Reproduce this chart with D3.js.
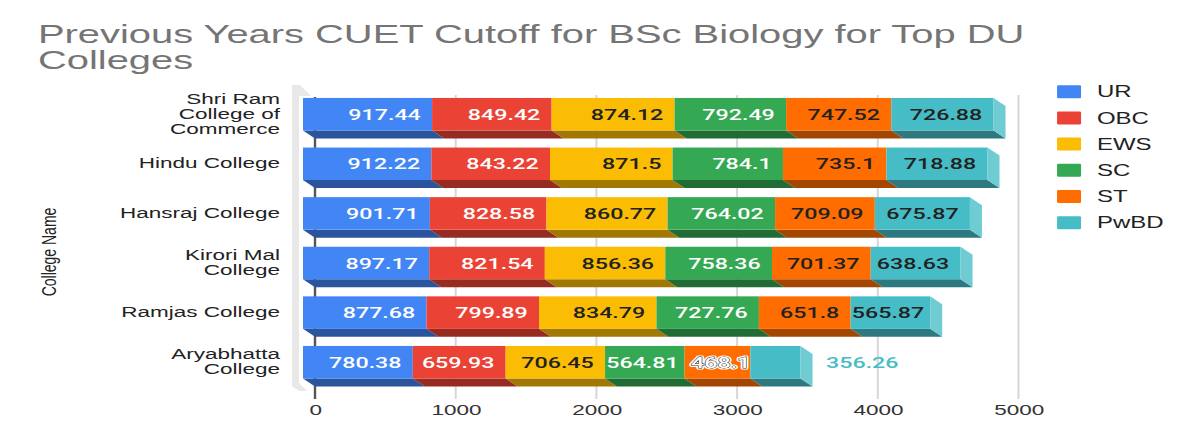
<!DOCTYPE html>
<html><head><meta charset="utf-8">
<script src="https://cdn.jsdelivr.net/npm/d3@7/dist/d3.min.js"></script>
<style>html,body{margin:0;padding:0;background:#fff;overflow:hidden}</style>
</head><body><svg id="chart" width="1200" height="442"></svg>
<script>
// ---------------- data ----------------
const titleLines = ["Previous Years CUET Cutoff for BSc Biology for Top DU", "Colleges"];
const yAxisTitle = "College Name";
const categories = ["Shri Ram College of Commerce", "Hindu College", "Hansraj College", "Kirori Mal College", "Ramjas College", "Aryabhatta College"];
const seriesNames = ["UR", "OBC", "EWS", "SC", "ST", "PwBD"];
const UR   = [917.44, 912.22, 901.71, 897.17, 877.68, 780.38];
const OBC  = [849.42, 843.22, 828.58, 821.54, 799.89, 659.93];
const EWS  = [874.12, 871.5, 860.77, 856.36, 834.79, 706.45];
const SC   = [792.49, 784.1, 764.02, 758.36, 727.76, 564.81];
const ST   = [747.52, 735.1, 709.09, 701.37, 651.8, 468.1];
const PwBD = [726.88, 718.88, 675.87, 638.63, 565.87, 356.26];
const xTicks = [0, 1000, 2000, 3000, 4000, 5000];

// ---------------- styles ----------------
const seriesValues = [UR, OBC, EWS, SC, ST, PwBD];
const frontColors = ["#4285F4", "#EA4335", "#FBBC04", "#34A853", "#FF6D01", "#46BDC6"];
const labelColors = ["#ffffff", "#ffffff", "#222222", "#ffffff", "#222222", "#222222"];
const darker = c => { const k = d3.rgb(c); return d3.rgb(k.r * 0.64, k.g * 0.64, k.b * 0.64).formatHex(); };
const lighter = c => d3.interpolateRgb(c, "#ffffff")(0.22);

const FONT = "'Liberation Sans', Arial, sans-serif";
const LFONT = "Roboto, 'Liberation Sans', sans-serif";
const SX = 1.5;           // horizontal stretch of the picture
const DX = 8, DY = 8;     // 3D depth offset (virtual units)

const svg = d3.select("#chart");
const root = svg.append("g").attr("transform", `scale(${SX},1)`);

// scales (front plane)
const x = d3.scaleLinear().domain([0, 5000]).range([202, 671]);
const y = d3.scaleBand().domain(categories).range([89.4, 387]).paddingInner(0.345).paddingOuter(0.1725);
const color = d3.scaleOrdinal().domain(seriesNames).range(frontColors);

// stacked data
const table = categories.map((c, i) => {
  const o = { college: c };
  seriesNames.forEach((s, j) => o[s] = seriesValues[j][i]);
  return o;
});
const stacked = d3.stack().keys(seriesNames)(table);

// ---------------- title ----------------
root.append("g").selectAll("text").data(titleLines).join("text")
  .attr("x", 25.3).attr("y", (d, i) => 43.5 + i * 25.5)
  .attr("font-family", FONT).attr("font-size", 26.6).attr("fill", "#757575")
  .text(d => d);

// ---------------- left wall ----------------
const wallPts = [[292,85],[300,85],[311,96],[299,96],[299,383],[307,391],[299,391],[292,386]];
root.append("polygon")
  .attr("points", wallPts.map(p => [p[0] / SX, p[1]].join(",")).join(" "))
  .attr("fill", "#e8e8e8");

// ---------------- grid (back plane) ----------------
const grid = root.append("g");
grid.selectAll("line").data(xTicks.filter(t => t !== 0)).join("line")
  .attr("x1", d => x(d) + DX).attr("x2", d => x(d) + DX)
  .attr("y1", 95).attr("y2", 399)
  .attr("stroke", "#d6d6d6").attr("stroke-width", 1.3);
grid.append("line")
  .attr("x1", x(0) + DX).attr("x2", x(0) + DX).attr("y1", 97).attr("y2", 399)
  .attr("stroke", "#555").attr("stroke-width", 1.6);

// x axis tick labels via d3 axis
const xBack = x.copy().range([x.range()[0] + DX, x.range()[1] + DX]);
const xAxis = root.append("g").attr("transform", "translate(0,404)")
  .call(d3.axisBottom(xBack).tickValues(xTicks).tickSize(0).tickPadding(0).tickFormat(d3.format("d")));
xAxis.select(".domain").remove();
xAxis.selectAll("text").attr("font-family", FONT).attr("font-size", 15).attr("fill", "#333")
  .attr("dy", "0.71em");

// ---------------- bars ----------------
const bw = y.bandwidth();
const rowsG = root.append("g");
categories.forEach((cat, ci) => {
  const yt = y(cat), yb = yt + bw;
  const g = rowsG.append("g");
  stacked.forEach((layer, si) => {
    const d = layer[ci];
    const x0 = x(d[0]), x1 = x(d[1]);
    const c = frontColors[si];
    g.append("polygon")
      .attr("points", [[x0, yb], [x1, yb], [x1 + DX, yb + DY], [x0 + DX, yb + DY]].map(p => p.join(",")).join(" "))
      .attr("fill", darker(c));
    g.append("rect").attr("x", x0).attr("y", yt).attr("width", x1 - x0).attr("height", bw).attr("fill", c);
    if (si === stacked.length - 1) {
      g.append("polygon")
        .attr("points", [[x1, yt], [x1 + DX, yt + DY], [x1 + DX, yb + DY], [x1, yb]].map(p => p.join(",")).join(" "))
        .attr("fill", lighter(c));
    }
  });
  stacked.forEach((layer, si) => {
    const d = layer[ci];
    const x0 = x(d[0]), x1 = x(d[1]);
    const segW = x1 - x0;
    const val = seriesValues[si][ci];
    const cy = yt + bw / 2;
    const t = g.append("text").attr("y", cy).attr("dy", "0.36em")
      .attr("font-family", LFONT).attr("font-weight", 500)
      .attr("font-size", 15.5).text(val);
    const tw = t.node().getComputedTextLength();
    const slack = segW - tw;
    if (segW >= 48 && slack >= 0) {
      const pad = Math.min(7.5, Math.max(0, slack - 0.8));
      t.attr("x", x1 - pad).attr("text-anchor", "end").attr("fill", labelColors[si]);
    } else if (slack >= 0) {
      t.attr("x", x1).attr("text-anchor", "end").attr("fill", "#fff")
        .attr("stroke", "#333").attr("stroke-width", 0.9).attr("paint-order", "stroke");
      g.insert("text", () => t.node()).attr("x", x1).attr("y", cy).attr("dy", "0.36em")
        .attr("text-anchor", "end")
        .attr("font-family", LFONT).attr("font-weight", 500)
        .attr("font-size", 15.5).attr("fill", "#fff").attr("stroke", "#fff").attr("stroke-width", 3.2)
        .attr("stroke-linejoin", "round").text(val);
    } else {
      t.attr("x", x1 + DX + 9).attr("text-anchor", "start").attr("fill", frontColors[si]);
    }
  });
});

// ---------------- category labels ----------------
const catG = root.append("g");
const CAT_FS = 15, CAT_LH = 15;
categories.forEach(cat => {
  const words = cat.split(" ");
  const probe = catG.append("text").attr("font-family", FONT).attr("font-size", 16);
  const lines = [];
  let cur = [];
  words.forEach(w => {
    const test = cur.concat([w]).join(" ");
    probe.text(test);
    if (probe.node().getComputedTextLength() > 120 && cur.length) {
      lines.push(cur.join(" "));
      cur = [w];
    } else cur.push(w);
  });
  if (cur.length) lines.push(cur.join(" "));
  probe.remove();
  const cy = y(cat) + bw / 2 - 1;
  lines.forEach((l, i) => {
    catG.append("text").attr("font-family", FONT).attr("font-size", CAT_FS).attr("fill", "#222")
      .attr("text-anchor", "end")
      .attr("x", 186.7).attr("y", cy + (i - (lines.length - 1) / 2) * CAT_LH).attr("dy", "0.36em").text(l);
  });
});

// y axis title
root.append("text").attr("transform", "translate(32,252) rotate(-90)")
  .attr("text-anchor", "middle").attr("dy", "0.36em")
  .attr("font-family", FONT).attr("font-size", 14).attr("fill", "#222").text(yAxisTitle);

// ---------------- legend ----------------
const leg = root.append("g").selectAll("g").data(seriesNames).join("g")
  .attr("transform", (d, i) => `translate(0,${91.7 + i * 26.2})`);
leg.append("rect").attr("x", 704.7).attr("y", -6.5).attr("width", 16).attr("height", 13).attr("rx", 1)
  .attr("fill", d => color(d));
leg.append("text").attr("x", 731.3).attr("dy", "0.36em")
  .attr("font-family", FONT).attr("font-size", 16).attr("fill", "#222").text(d => d);
</script>
</body></html>
